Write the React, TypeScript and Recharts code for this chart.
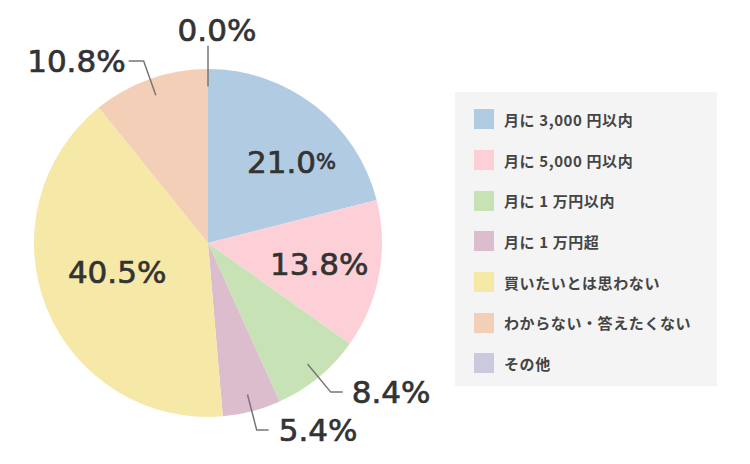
import { PieChart, Pie, Cell, Legend } from 'recharts'

const CATEGORIES = [
  '月に 3,000 円以内',
  '月に 5,000 円以内',
  '月に 1 万円以内',
  '月に 1 万円超',
  '買いたいとは思わない',
  'わからない・答えたくない',
  'その他',
]
const VALUES = [21.0, 13.8, 8.4, 5.4, 40.5, 10.8, 0.0]
const COLORS = ['#b0cbe2', '#fdd0d8', '#c7e3b5', '#dbbdce', '#f6e8a6', '#f4cfb8', '#cbc9de']

// label placement per slice: inside (r ratio + nudge) or outside with a leader line
const LABEL_STYLE = [
  { inside: true, r: 0.67, dx: 12, dy: 11, small: true },
  { inside: true, r: 0.65, dx: 0, dy: 0 },
  { inside: false, gap: 9 },
  { inside: false, gap: 10 },
  { inside: true, r: 0.6, dx: 6, dy: -10 },
  { inside: false, gap: 3 },
  { inside: false, top: true },
]

const RADIAN = Math.PI / 180
const SIZE = 31
const textProps = {
  fill: '#333',
  stroke: '#333',
  strokeWidth: 0.7,
  fontFamily: '"DejaVu Sans", "Noto Sans", sans-serif',
  fontSize: SIZE,
}

const data = CATEGORIES.map((name, i) => ({ name, value: VALUES[i], color: COLORS[i] }))

function renderLabel(props: any) {
  const { cx, cy, midAngle, outerRadius, index, value } = props
  const s: any = LABEL_STYLE[index]
  const num = value.toFixed(1)
  const cos = Math.cos(-midAngle * RADIAN)
  const sin = Math.sin(-midAngle * RADIAN)

  if (s.inside) {
    const x = cx + outerRadius * s.r * cos + s.dx
    const y = cy + outerRadius * s.r * sin + s.dy
    return (
      <text x={x} y={y} textAnchor="middle" dominantBaseline="central" {...textProps}>
        {num}
        <tspan fontSize={s.small ? 21 : SIZE}>%</tspan>
      </text>
    )
  }

  const x1 = cx + outerRadius * 0.9 * cos
  const y1 = cy + outerRadius * 0.9 * sin
  const x2 = cx + outerRadius * 1.11 * cos
  const y2 = cy + outerRadius * 1.11 * sin

  if (s.top) {
    return (
      <g>
        <line x1={x1} y1={y1} x2={x2} y2={y2 - 4} stroke="#777" strokeWidth={1.5} />
        <text x={x2 + 9} y={y2 - 9} textAnchor="middle" {...textProps}>
          {num}%
        </text>
      </g>
    )
  }

  const right = cos >= 0
  const x3 = x2 + (right ? 12 : -15)
  return (
    <g>
      <polyline points={`${x1},${y1} ${x2},${y2} ${x3},${y2}`} fill="none" stroke="#777" strokeWidth={1.5} />
      <text
        x={x3 + (right ? s.gap : -s.gap)}
        y={y2}
        textAnchor={right ? 'start' : 'end'}
        dominantBaseline="central"
        {...textProps}
      >
        {num}%
      </text>
    </g>
  )
}

function LegendBox() {
  return (
    <div style={{ background: '#f4f4f4', width: 262, height: 294, boxSizing: 'border-box', paddingTop: 7 }}>
      {data.map((d) => (
        <div key={d.name} style={{ display: 'flex', alignItems: 'center', height: 40.7, paddingLeft: 19 }}>
          <span style={{ width: 20, height: 20, background: d.color, display: 'inline-block', marginRight: 10, flexShrink: 0 }} />
          <span
            style={{
              fontFamily: '"Noto Sans CJK JP", sans-serif',
              fontSize: 15,
              fontWeight: 700,
              letterSpacing: 0.6,
              color: '#444',
              whiteSpace: 'nowrap',
            }}
          >
            {d.name}
          </span>
        </div>
      ))}
    </div>
  )
}

export default function App() {
  return (
    <div style={{ position: 'absolute', left: 0, top: 0, width: 750, height: 464, background: '#fff' }}>
      <PieChart width={750} height={464} margin={{ top: 0, right: 0, bottom: 0, left: 0 }}>
        <Pie
          data={data}
          dataKey="value"
          nameKey="name"
          cx={208}
          cy={243}
          outerRadius={174}
          startAngle={90}
          endAngle={-270}
          stroke="none"
          label={renderLabel}
          labelLine={false}
          isAnimationActive={false}
        >
          {data.map((d) => (
            <Cell key={d.name} fill={d.color} />
          ))}
        </Pie>
        <Legend
          layout="vertical"
          content={() => <LegendBox />}
          wrapperStyle={{ position: 'absolute', left: 455, top: 92, width: 262, height: 294 }}
        />
      </PieChart>
    </div>
  )
}
